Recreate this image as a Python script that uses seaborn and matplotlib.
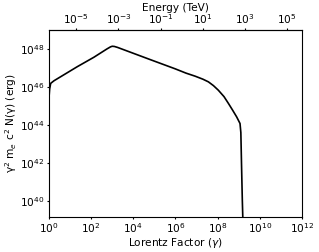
import numpy as np
import pandas as pd
import seaborn as sns
import matplotlib
matplotlib.use("Agg")
import matplotlib.pyplot as plt

# values (log10 gamma, log10 of gamma^2 m_e c^2 N)
log_gamma = [0.0, 0.03, 0.08, 0.24, 1.34, 2.13, 2.75, 2.92, 3.0, 3.1, 3.25, 3.37,
             4.79, 5.98, 6.5, 6.93, 7.3, 7.56, 7.8, 8.03, 8.3, 8.51, 8.7, 8.90,
             9.06, 9.10, 9.13, 9.17, 9.22, 9.25]
log_energy = [45.45, 45.9, 46.2, 46.34, 47.08, 47.58, 48.02, 48.13, 48.16, 48.15, 48.1, 48.05,
              47.46, 46.97, 46.74, 46.58, 46.42, 46.28, 46.08, 45.84, 45.5, 45.14, 44.8, 44.43,
              44.08, 43.6, 42.0, 40.0, 38.0, 37.0]

me_tev = 5.11e-7  # electron rest energy in TeV

df = pd.DataFrame({'gamma': 10.0 ** np.array(log_gamma),
                   'E': 10.0 ** np.array(log_energy)})

plt.rcParams['font.size'] = 7.6
plt.rcParams['xtick.major.size'] = 1.6
plt.rcParams['ytick.major.size'] = 1.6
plt.rcParams['xtick.major.pad'] = 1.6
plt.rcParams['ytick.major.pad'] = 1.6
fig, ax = plt.subplots(figsize=(3.19, 2.52), dpi=100)
fig.subplots_adjust(left=0.1536, right=0.9467, top=0.881, bottom=0.139)

sns.lineplot(data=df, x='gamma', y='E', color='black', linewidth=1.2,
             estimator=None, sort=False, ax=ax)
ax.set_xscale('log')
ax.set_yscale('log')
ax.set_xlim(1, 1e12)
ax.set_ylim(10 ** 39.14, 10 ** 49.02)
ax.set_xticks([10.0 ** k for k in range(0, 13, 2)])
ax.set_yticks([10.0 ** k for k in range(40, 49, 2)])
ax.minorticks_off()
ax.set_xlabel(r'Lorentz Factor ($\gamma$)', labelpad=0.5)
ax.set_ylabel(r'γ$^2$ m$_e$ c$^2$ N(γ) (erg)', labelpad=1)

top = ax.secondary_xaxis('top', functions=(lambda g: g * me_tev, lambda e: e / me_tev))
top.set_xscale('log')
top.set_xticks([10.0 ** k for k in range(-5, 6, 2)])
top.minorticks_off()
top.set_xlabel('Energy (TeV)', labelpad=0.5)

fig.savefig('out.png', dpi=100)
